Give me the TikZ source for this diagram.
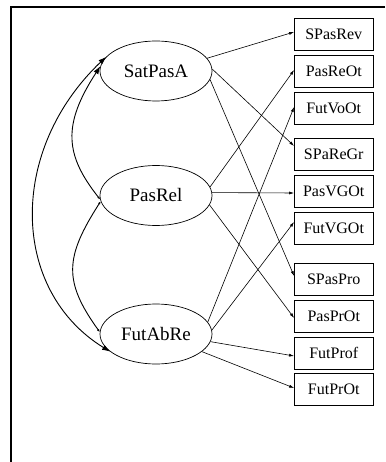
\documentclass[tikz,border=0pt]{standalone}
\usepackage{fontspec}
\setmainfont{Liberation Serif}
\usetikzlibrary{shapes.geometric,arrows.meta}
\begin{document}
\begin{tikzpicture}[x=1pt,y=-1pt,
  latent/.style={ellipse,draw,line width=0.7pt,minimum width=112pt,minimum height=60pt,inner sep=0pt,font=\fontsize{19}{19}\selectfont},
  manifest/.style={rectangle,draw,line width=0.8pt,minimum width=78.5pt,minimum height=32pt,inner sep=0pt,font=\fontsize{16}{16}\selectfont},
  load/.style={line width=0.6pt,-{Latex[length=5pt,width=3pt]}},
  cov/.style={line width=0.9pt},
  covbb/.style={cov,{Latex[length=8pt,width=5.5pt]}-{Latex[length=8pt,width=5.5pt]}},
  covbs/.style={cov,{Latex[length=8pt,width=5.5pt]}-{Latex[length=3pt,width=2.5pt]}},
  covss/.style={cov,{Latex[length=3pt,width=2.5pt]}-{Latex[length=3pt,width=2.5pt]}}
]
\useasboundingbox (0,0) rectangle (385,462);
\draw[line width=2pt] (385,7) -- (11,7) -- (11,462);

\node[latent] (SatPasA) at (156,71) {SatPasA};
\node[latent] (PasRel) at (156,195.5) {PasRel};
\node[latent] (FutAbRe) at (156,334) {FutAbRe};

\node[manifest] (SPasRev) at (333.75,34) {SPasRev};
\node[manifest] (PasReOt) at (333.75,71) {PasReOt};
\node[manifest] (FutVoOt) at (333.75,108) {FutVoOt};
\node[manifest] (SPaReGr) at (333.75,154) {SPaReGr};
\node[manifest] (PasVGOt) at (333.75,191) {PasVGOt};
\node[manifest] (FutVGOt) at (333.75,228) {FutVGOt};
\node[manifest] (SPasPro) at (333.75,279.5) {SPasPro};
\node[manifest] (PasPrOt) at (333.75,316) {PasPrOt};
\node[manifest] (FutProf) at (333.75,353) {FutProf};
\node[manifest] (FutPrOt) at (333.75,389.5) {FutPrOt};

\draw[load] (SatPasA.14) -- ([yshift=2pt]SPasRev.west);
\draw[load] (SatPasA.2) -- ([yshift=8pt]SPaReGr.west);
\draw[load] (SatPasA.-9) -- ([yshift=3.5pt]SPasPro.west);
\draw[load] (PasRel.9) -- ([yshift=1pt]PasReOt.west);
\draw[load] (PasRel.3) -- ([yshift=-2pt]PasVGOt.west);
\draw[load] (PasRel.-10) -- ([yshift=-2pt]PasPrOt.west);
\draw[load] (FutAbRe.13) -- ([yshift=1pt]FutVoOt.west);
\draw[load] (FutAbRe.4) -- ([yshift=6pt]FutVGOt.west);
\draw[load] (FutAbRe.-8) -- ([yshift=-3pt]FutProf.west);
\draw[load] (FutAbRe.-21) -- ([yshift=1.5pt]FutPrOt.west);

\draw[covbb] (SatPasA.164) .. controls (8,150) and (10,290) .. (FutAbRe.201);
\draw[covbs] (SatPasA.175) .. controls (62,125) and (65,155) .. (PasRel.184);
\draw[covss] (PasRel.186) .. controls (65,257) and (63,281) .. (FutAbRe.178);
\end{tikzpicture}
\end{document}
